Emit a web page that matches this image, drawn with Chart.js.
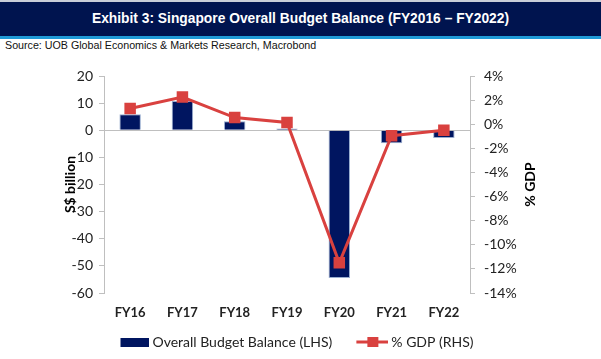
<!DOCTYPE html>
<html><head><meta charset="utf-8">
<script src="https://cdn.jsdelivr.net/npm/chart.js@4.4.0/dist/chart.umd.min.js"></script>
<style>
html,body{margin:0;padding:0;background:#fff;width:601px;height:359px;overflow:hidden;}
#topline{position:absolute;left:0;top:0;width:601px;height:2px;background:#c8cdd8;}
#hdr{position:absolute;left:0;top:2px;width:601px;height:34px;background:#00144f;color:#fff;font:bold 13.8px "Liberation Sans",Arial,sans-serif;text-align:center;line-height:34px;}
#strip{position:absolute;left:0;top:36px;width:601px;height:3px;background:#1f9bd7;}
#src{position:absolute;left:5px;top:39px;font:10.7px/13px "Liberation Sans",Arial,sans-serif;color:#111;}
#wrap{position:absolute;left:0;top:56px;width:601px;height:303px;}
</style></head><body>
<div id="topline"></div>
<div id="hdr">Exhibit 3: Singapore Overall Budget Balance (FY2016 – FY2022)</div>
<div id="strip"></div>
<div id="src">Source: UOB Global Economics &amp; Markets Research, Macrobond</div>
<div id="wrap"><canvas id="c"></canvas></div>
<script>
const categories = ["FY16","FY17","FY18","FY19","FY20","FY21","FY22"];
const budgetBalance = [5.9, 10.8, 3.3, 0.6, -54.5, -4.8, -2.9];
const pctGDP = [1.3, 2.25, 0.55, 0.15, -11.5, -0.95, -0.5];
const leftTicks = [-60,-50,-40,-30,-20,-10,0,10,20];
const rightTicks = [-14,-12,-10,-8,-6,-4,-2,0,2,4];

const NAVY = "#001560", RED = "#d9413f";
function barIcon(){const c=document.createElement('canvas');c.width=52;c.height=9;const x=c.getContext('2d');x.fillStyle=NAVY;x.fillRect(23,0,29,9);return c;}
function lineIcon(){const c=document.createElement('canvas');c.width=52;c.height=12;const x=c.getContext('2d');x.strokeStyle=RED;x.lineWidth=3;x.beginPath();x.moveTo(20,6);x.lineTo(52,6);x.stroke();x.fillStyle=RED;x.fillRect(31,1,11,10);return c;}

const FAM = "Lato, 'Liberation Sans', sans-serif";
const extras = {id:'extras',
  beforeDatasetsDraw(chart){const y=chart.scales.y.getPixelForValue(0);const a=chart.chartArea;const ctx=chart.ctx;ctx.save();ctx.strokeStyle='#bfbfbf';ctx.lineWidth=1;ctx.beginPath();ctx.moveTo(a.left,Math.round(y)+0.5);ctx.lineTo(a.right,Math.round(y)+0.5);ctx.stroke();ctx.restore();},
  afterDraw(chart){const a=chart.chartArea;const ctx=chart.ctx;const cy=(a.top+a.bottom)/2;ctx.save();ctx.fillStyle='#000';ctx.font="bold 14px "+FAM;ctx.textAlign='center';ctx.textBaseline='middle';
    ctx.save();ctx.translate(70,cy);ctx.rotate(-Math.PI/2);ctx.fillText('S$ billion',0,0);ctx.restore();
    ctx.save();ctx.translate(530,cy);ctx.rotate(-Math.PI/2);ctx.fillText('% GDP',0,0);ctx.restore();
    ctx.restore();}
};

new Chart(document.getElementById('c'),{
  data:{labels:categories,datasets:[
    {type:'bar',label:'Overall Budget Balance (LHS)',data:budgetBalance,yAxisID:'y',backgroundColor:NAVY,borderColor:'#9aaed0',borderWidth:1,barPercentage:0.41,categoryPercentage:1,order:2},
    {type:'line',label:'% GDP (RHS)',data:pctGDP,yAxisID:'y1',borderColor:RED,backgroundColor:RED,borderWidth:3,pointStyle:'rect',pointRadius:6,pointHoverRadius:6,tension:0,order:1}
  ]},
  options:{responsive:true,maintainAspectRatio:false,animation:false,
    layout:{padding:{left:10,right:36,top:20,bottom:0}},
    plugins:{tooltip:{enabled:false},
      legend:{position:'bottom',labels:{usePointStyle:true,pointStyleWidth:44,padding:8,color:'#222',font:{family:FAM,size:14},
        generateLabels(chart){return [
          {text:'Overall Budget Balance (LHS)',pointStyle:barIcon(),datasetIndex:0,fontColor:'#222',lineWidth:0,strokeStyle:'rgba(0,0,0,0)',fillStyle:NAVY},
          {text:'% GDP (RHS)',pointStyle:lineIcon(),datasetIndex:1,fontColor:'#222',lineWidth:0,strokeStyle:'rgba(0,0,0,0)',fillStyle:RED}
        ];}}}},
    scales:{
      x:{offset:true,grid:{display:false,drawTicks:false},border:{display:false},afterFit(s){s.height=34;},ticks:{color:'#222',padding:12,font:{family:FAM,size:13,weight:'bold'}}},
      y:{position:'left',min:-60,max:20,afterBuildTicks(s){s.ticks=leftTicks.map(v=>({value:v}));},afterFit(s){s.width=94;},
        grid:{drawOnChartArea:false,color:'#bfbfbf',tickLength:5},border:{color:'#bfbfbf'},
        ticks:{color:'#222',padding:6,font:{family:FAM,size:14}}},
      y1:{position:'right',min:-14,max:4,afterBuildTicks(s){s.ticks=rightTicks.map(v=>({value:v}));},afterFit(s){s.width=95;},
        grid:{drawOnChartArea:false,color:'#bfbfbf',tickLength:5},border:{color:'#bfbfbf'},
        ticks:{color:'#222',padding:9,font:{family:FAM,size:14},callback:v=>v+'%'}}
    }
  },
  plugins:[extras]
});
</script>
</body></html>
